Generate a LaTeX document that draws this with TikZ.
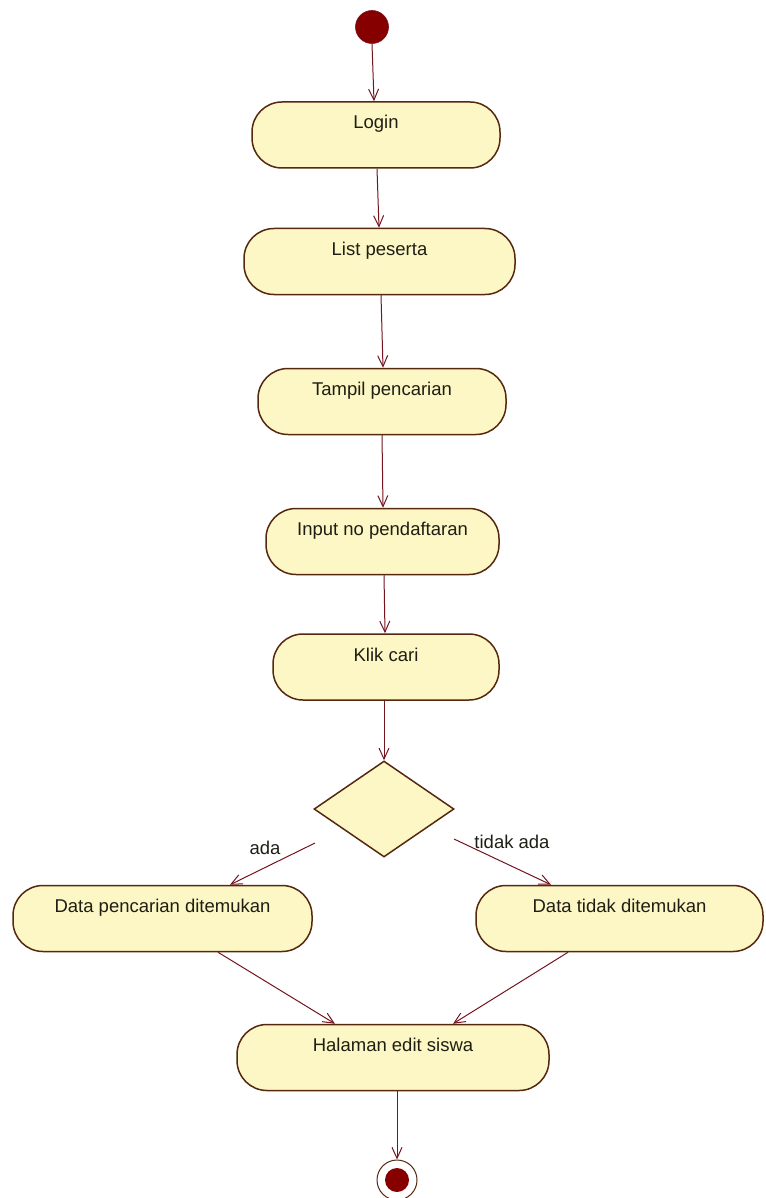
\documentclass[tikz,border=0pt]{standalone}
\usepackage{fontspec}
\setmainfont{Liberation Sans}
\usetikzlibrary{arrows.meta,shapes.geometric}
\definecolor{boxfill}{RGB}{252,247,196}
\definecolor{boxline}{RGB}{85,40,15}
\definecolor{flow}{RGB}{115,20,30}
\definecolor{dot}{RGB}{135,0,0}
\definecolor{txt}{RGB}{30,30,20}
\begin{document}
\begin{tikzpicture}[x=1pt,y=-1pt,
  act/.style={draw=boxline, fill=boxfill, line width=1.5pt, rounded corners=30pt,
    inner xsep=0pt, inner ysep=0pt, text height=27pt, text depth=39pt,
    text=txt, font=\fontsize{18.5}{20}\selectfont},
  decision/.style={diamond, draw=boxline, fill=boxfill, line width=1.5pt,
    inner sep=0pt, minimum width=140pt, minimum height=96pt},
  flowline/.style={draw=flow, line width=1pt, -{Straight Barb[length=11pt,width=10pt]}},
  guard/.style={text=txt, font=\fontsize{18.5}{20}\selectfont, inner sep=0pt}]
\useasboundingbox (0,0) rectangle (765,1198);
% start
\node[circle, fill=dot, draw=flow, line width=0.6pt, minimum size=33pt, inner sep=0pt] (start) at (372,27) {};
% activities
\node[act, minimum width=248pt] (login)  at (376,135)   {Login};
\node[act, minimum width=271pt] (list)   at (379.5,261.5) {List peserta};
\node[act, minimum width=248pt] (tampil) at (382,401.5) {Tampil pencarian};
\node[act, minimum width=233pt] (input)  at (382.5,541.5) {Input no pendaftaran};
\node[act, minimum width=226pt] (klik)   at (386,667)   {Klik cari};
\node[decision] (dec) at (384,809) {};
\node[act, minimum width=299pt] (dpc) at (162.5,918.5) {Data pencarian ditemukan};
\node[act, minimum width=287pt] (dtd) at (619.5,918.5) {Data tidak ditemukan};
\node[act, minimum width=312pt] (hal) at (393,1057.5) {Halaman edit siswa};
% end
\node[circle, draw=boxline, fill=white, line width=1pt, minimum size=40pt, inner sep=0pt] (end) at (397,1180) {};
\node[circle, fill=dot, minimum size=24pt, inner sep=0pt] (endin) at (end.center) {};
% free ends of guard flows
\coordinate (adaS) at (315,843);
\coordinate (tdkS) at (454,839);
% flows
\draw[flowline] (start.south) -- ([xshift=-2pt]login.north);
\draw[flowline] ([xshift=1pt]login.south) -- ([xshift=-0.5pt]list.north);
\draw[flowline] ([xshift=1.5pt]list.south) -- ([xshift=1pt]tampil.north);
\draw[flowline] (tampil.south) -- ([xshift=0.5pt]input.north);
\draw[flowline] ([xshift=1.5pt]input.south) -- ([xshift=-1pt]klik.north);
\draw[flowline] ([xshift=-2pt]klik.south) -- (dec.north);
\draw[flowline] (adaS) -- ([xshift=67.5pt]dpc.north);
\draw[flowline] (tdkS) -- ([xshift=-68.5pt]dtd.north);
\draw[flowline] ([xshift=55.5pt]dpc.south) -- ([xshift=-58pt]hal.north);
\draw[flowline] ([xshift=-51.5pt]dtd.south) -- ([xshift=60pt]hal.north);
\draw[flowline] ([xshift=4pt]hal.south) -- (end.north);
% guards
\node[guard] (lada) at (265,848) {ada};
\node[guard] (ltdk) at (512,842) {tidak ada};
\end{tikzpicture}
\end{document}
